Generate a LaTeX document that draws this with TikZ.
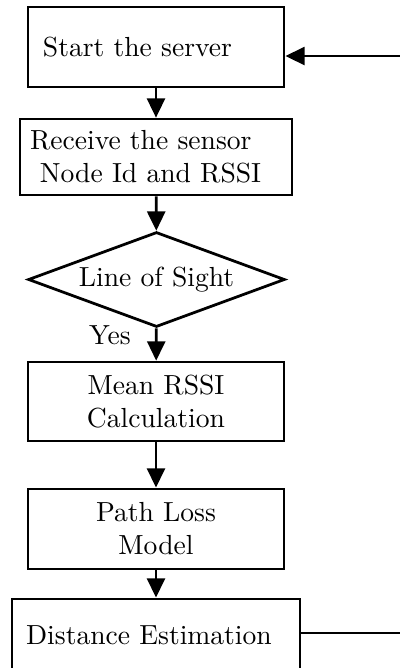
\documentclass[tikz,border=0pt]{standalone}
\usetikzlibrary{positioning,arrows.meta,shapes.geometric}
\tikzset{
  box/.style={draw,line width=1pt,minimum width=92.75pt,minimum height=29pt,
              align=center,inner sep=0pt},
  lbox/.style={box,align=left,text width=#1},
  dec/.style={draw,diamond,aspect=2.7,line width=1pt,minimum width=93pt,
              minimum height=34.4pt,inner sep=0pt},
  arr/.style={line width=1pt,-{Triangle[length=7pt,width=6.5pt]}},
  fb/.style={line width=1pt}
}
\begin{document}
\begin{tikzpicture}[x=0.3623pt,y=-0.3623pt]
\clip (0,0) rectangle (400,668);
% steps
\node[lbox={81.9pt},inner xsep=5.4pt] (start) at (156,47) {Start the server};
\node[lbox={91.3pt},inner xsep=3.6pt,minimum height=27.5pt] (recv) at (156,157)
  {Receive the sensor\\ \hspace*{3.6pt}Node Id and RSSI};
\node[dec] (los) at (156.5,279.5) {Line of Sight};
\node[box,minimum height=28.6pt] (mean) at (156,401.5) {Mean RSSI\\Calculation};
\node[box] (path) at (156,529) {Path Loss\\Model};
\node[lbox={94.1pt},inner xsep=5.1pt,minimum height=26.1pt] (dist) at (156,635)
  {Distance Estimation};
% branch label
\node (yes) at (110,335) {Yes};
% flow
\draw[arr] (start) -- (recv);
\draw[arr] (recv) -- (los);
\draw[arr] (los) -- (mean);
\draw[arr] (mean) -- (path);
\draw[arr] (path) -- (dist);
% loop back
\coordinate (fbtop) at (400,56);
\coordinate (fbbot) at (400,633);
\draw[arr] (fbtop) -- (start.east |- fbtop);
\draw[fb] (dist.east |- fbbot) -- (fbbot);
\end{tikzpicture}
\end{document}
